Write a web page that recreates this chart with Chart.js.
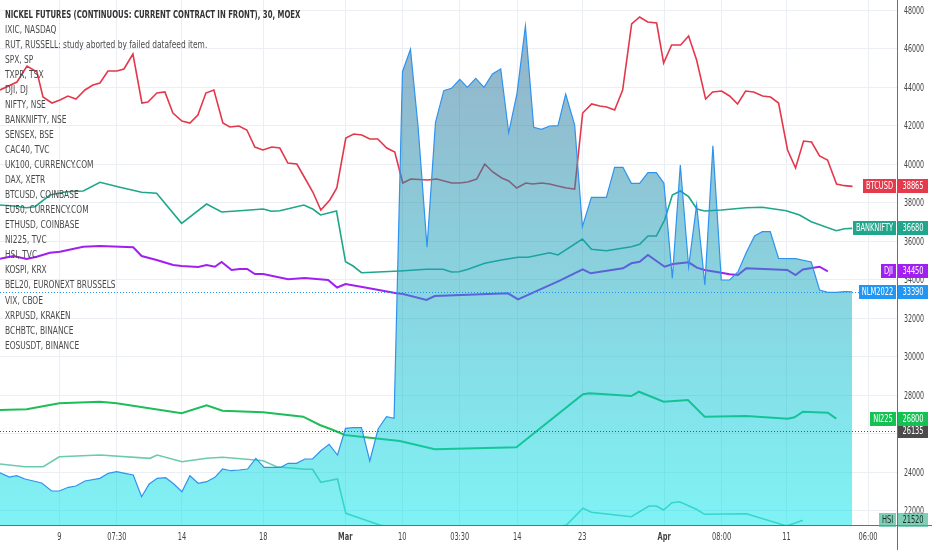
<!DOCTYPE html>
<html>
<head>
<meta charset="utf-8">
<title>NICKEL FUTURES, 30, MOEX</title>
<script src="https://cdn.jsdelivr.net/npm/chart.js@4.4.1/dist/chart.umd.min.js"></script>
<style>
  html, body { margin: 0; padding: 0; background: #ffffff; }
  #wrap { position: relative; width: 932px; height: 550px; }
</style>
</head>
<body>
<div id="wrap"><canvas id="grafico"></canvas></div>
<script>
// Fuente condensada (se estrecha a mano al dibujar el texto)
const FONT = "'Liberation Sans Narrow', 'DejaVu Sans Condensed', sans-serif";

// Eje de tiempo (índice de barra) y etiquetas
const xTickPos = [5.93, 11.7, 18.2, 26.33, 34.55, 40.25, 46.0, 51.75, 58.25, 66.45, 72.2, 78.7, 86.85];
const xTickLabels = ["9", "07:30", "14", "18", "Mar", "10", "03:30", "14", "23", "Apr", "08:00", "11", "06:00"];
const yTicks = [22000, 24000, 26000, 28000, 30000, 32000, 34000, 36000, 38000, 40000, 42000, 44000, 46000, 48000];

// Series [tiempo, valor]
const nlm2022 = [
  [0, 23988], [0.93, 23765], [1.67, 23832], [2.5, 23661], [4.17, 23453], [5.17, 23038], [5.93, 23038],
  [6.83, 23230], [7.6, 23297], [8.5, 23557], [10.0, 23697], [10.83, 23957], [11.67, 24040], [12.5, 23957],
  [13.33, 23869], [14.17, 22741], [14.93, 23401], [15.73, 23697], [16.57, 23729], [17.4, 23401], [18.2, 23001],
  [19.0, 23832], [19.83, 23438], [20.67, 23521], [21.5, 23749], [22.27, 24180], [23.1, 24092], [23.93, 24128],
  [24.77, 24180], [25.6, 24736], [26.43, 24269], [27.27, 24269], [28.1, 24269], [28.83, 24477], [29.67, 24477],
  [30.5, 24700], [31.27, 24700], [32.1, 25131], [32.93, 25464], [33.77, 24908], [34.57, 26295], [35.33, 26326],
  [36.17, 26326], [37.0, 24596], [37.83, 26258], [38.67, 26897], [39.43, 26814], [40.27, 44820], [41.07, 45984],
  [41.83, 41963], [42.73, 35698], [43.57, 42171], [44.4, 43833], [45.17, 43958], [46.0, 44425], [46.77, 44010],
  [47.6, 44477], [48.43, 44010], [49.27, 44701], [50.1, 44960], [50.9, 41651], [51.73, 43698], [52.57, 47194],
  [53.4, 41932], [54.17, 41828], [55.0, 41999], [55.83, 42015], [56.6, 43662], [57.5, 42051], [58.27, 36768],
  [59.17, 38295], [60.67, 38295], [61.5, 39854], [62.33, 39854], [63.17, 39023], [64.0, 39023], [64.83, 39573],
  [65.67, 39573], [66.43, 39023], [67.27, 34087], [68.07, 39973], [68.9, 34690], [69.7, 37895], [70.53, 33739],
  [71.33, 40976], [72.17, 33999], [73.0, 33999], [73.83, 34415], [74.67, 35428], [75.5, 36285], [76.27, 36508],
  [77.07, 36508], [77.9, 35126], [79.6, 35105], [81.17, 34934], [82.0, 33479], [82.83, 33360], [83.67, 33360],
  [84.5, 33391], [85.27, 33390]
];

const btcusd = [
  [0, 43870], [1.7, 44285], [2.7, 45116], [3.7, 44805], [4.3, 43506], [5.2, 43194], [6.0, 43350], [6.8, 43558],
  [7.6, 43402], [8.5, 43870], [9.3, 44129], [10.0, 44233], [10.8, 44857], [11.7, 44857], [12.4, 44960],
  [13.3, 45740], [14.2, 43194], [14.8, 43246], [15.7, 43714], [16.5, 43766], [17.3, 42675], [18.2, 42259],
  [19.0, 42155], [19.8, 42571], [20.6, 43714], [21.4, 43870], [22.3, 42155], [23.0, 41947], [23.9, 41999],
  [24.7, 41792], [25.5, 40908], [26.3, 40753], [27.2, 40908], [28.0, 40856], [28.8, 40077], [29.7, 40025],
  [30.5, 39298], [31.3, 38571], [32.1, 37635], [33.0, 38155], [33.7, 38778], [34.6, 41376], [35.4, 41584],
  [36.2, 41532], [37.0, 41324], [37.8, 41324], [38.7, 40856], [39.5, 40649], [40.3, 39038], [41.1, 39246],
  [42.8, 39194], [43.7, 39246], [45.2, 39038], [46.0, 39038], [46.8, 39090], [47.7, 39246], [48.5, 40025],
  [49.3, 39610], [50.2, 39298], [50.9, 39142], [51.7, 38778], [52.6, 39038], [53.3, 38986], [54.2, 39038],
  [55.0, 38986], [55.8, 38882], [56.7, 38778], [57.5, 38726], [58.3, 42675], [59.2, 43142], [60.0, 43038],
  [60.7, 42986], [61.5, 42831], [62.3, 43870], [63.2, 47298], [64.0, 47662], [64.8, 47402], [65.7, 47350],
  [66.4, 45272], [67.2, 46207], [68.1, 46207], [68.9, 46675], [69.7, 45428], [70.6, 43402], [71.3, 43766],
  [72.2, 43818], [73.0, 43558], [73.8, 43142], [74.6, 43818], [75.4, 43766], [76.3, 43558], [77.1, 43506],
  [77.9, 43194], [78.8, 40753], [79.6, 39817], [80.4, 41220], [81.2, 41168], [82.0, 40441], [82.8, 40233],
  [83.7, 38986], [84.5, 38900], [85.3, 38865]
];

const banknifty = [
  [0, 37895], [1.33, 37843], [2.67, 37755], [3.5, 37807], [5.0, 38415], [6.67, 38586], [8.33, 38623],
  [10.0, 39075], [12.0, 38815], [14.17, 38555], [15.67, 38503], [18.17, 36945], [20.67, 37947], [22.17, 37532],
  [24.0, 37599], [26.33, 37687], [27.17, 37568], [28.0, 37599], [30.4, 37895], [31.33, 37672], [32.07, 37376],
  [33.67, 37584], [34.57, 34950], [35.33, 34726], [36.17, 34378], [40.0, 34467], [42.67, 34555], [44.33, 34555],
  [45.17, 34415], [45.93, 34430], [46.83, 34555], [48.5, 34867], [50.17, 35038], [51.83, 35178], [52.83, 35178],
  [55.0, 35417], [55.83, 35298], [58.27, 36129], [59.17, 35594], [60.67, 35521], [63.17, 35729], [64.0, 35854],
  [64.83, 36285], [65.67, 36285], [66.5, 37116], [67.27, 38415], [68.07, 38623], [68.9, 38327], [69.73, 37687],
  [70.5, 37584], [72.17, 37635], [74.67, 37755], [76.27, 37776], [78.67, 37599], [80.0, 37376], [81.17, 37028],
  [83.67, 36560], [84.5, 36664], [85.27, 36680]
];

const dji = [
  [0, 35106], [1.33, 35246], [2.67, 35090], [3.67, 35210], [5.0, 35417], [6.0, 35469], [8.33, 35729],
  [10.0, 35765], [13.33, 35698], [14.17, 35246], [15.67, 35038], [17.33, 34778], [18.17, 34726], [19.83, 34674],
  [20.67, 34778], [21.5, 34690], [22.17, 34934], [23.17, 34518], [24.0, 34570], [24.73, 34570], [25.5, 34311],
  [26.33, 34311], [28.83, 34035], [30.5, 34103], [32.83, 33999], [33.73, 33609], [34.57, 33791], [36.67, 33599],
  [39.67, 33308], [40.33, 33272], [42.67, 32960], [43.5, 33168], [50.83, 33308], [51.83, 32996], [56.0, 33963],
  [58.3, 34555], [59.1, 34347], [62.33, 34607], [63.17, 34867], [64.0, 34950], [64.83, 35298], [66.5, 34690],
  [67.33, 34830], [68.9, 34919], [69.73, 34638], [70.5, 34518], [72.17, 34378], [73.0, 34295], [73.83, 34259],
  [74.67, 34607], [78.77, 34518], [79.6, 34259], [80.33, 34544], [82.0, 34690], [82.83, 34450]
];

const ni225 = [
  [0, 27245], [2.67, 27282], [5.93, 27594], [10.0, 27677], [11.67, 27594], [18.17, 27074], [20.67, 27490],
  [22.27, 27209], [26.33, 27126], [30.33, 26897], [32.0, 26466], [33.33, 26206], [34.5, 25947], [40.0, 25635],
  [43.5, 25204], [51.67, 25308], [58.33, 28061], [59.0, 28113], [63.17, 27973], [63.93, 28196], [66.4, 27677],
  [68.83, 27765], [70.5, 26897], [74.67, 26934], [78.83, 26794], [79.5, 26866], [80.33, 27157], [82.83, 27105],
  [83.67, 26800]
];

const hsi = [
  [0, 24440], [2.5, 24300], [4.33, 24300], [5.93, 24820], [10.0, 24908], [15.0, 24736], [15.73, 24908],
  [18.2, 24560], [20.67, 24736], [22.27, 24788], [24.67, 24684], [26.33, 24612], [27.67, 24300], [30.5, 24165],
  [31.27, 24165], [32.1, 23490], [33.77, 23661], [34.6, 21879], [38.0, 21271], [44.0, 20700], [52.0, 20800],
  [56.67, 21271], [58.33, 22139], [59.17, 21931], [63.17, 21702], [64.93, 22258], [65.67, 22258], [66.4, 22050],
  [67.23, 22430], [68.0, 22482], [69.67, 22087], [70.5, 21827], [74.67, 21858], [78.67, 21230], [79.5, 21360],
  [80.33, 21520]
];

// Línea de precio suelta en el eje
const priceMarker = 26135;

// Lista de estudios arriba a la izquierda
const legendLines = [
  "NICKEL FUTURES (CONTINUOUS: CURRENT CONTRACT IN FRONT), 30, MOEX",
  "IXIC, NASDAQ",
  "RUT, RUSSELL: study aborted by failed datafeed item.",
  "SPX, SP",
  "TXPR, TSX",
  "DJI, DJ",
  "NIFTY, NSE",
  "BANKNIFTY, NSE",
  "SENSEX, BSE",
  "CAC40, TVC",
  "UK100, CURRENCY.COM",
  "DAX, XETR",
  "BTCUSD, COINBASE",
  "EU50, CURRENCY.COM",
  "ETHUSD, COINBASE",
  "NI225, TVC",
  "HSI, TVC",
  "KOSPI, KRX",
  "BEL20, EURONEXT BRUSSELS",
  "VIX, CBOE",
  "XRPUSD, KRAKEN",
  "BCHBTC, BINANCE",
  "EOSUSDT, BINANCE"
];

const toPoints = (arr) => arr.map(([x, y]) => ({ x: x, y: y }));

function lineSet(label, arr, color, width, order) {
  return {
    label: label,
    data: toPoints(arr),
    borderColor: color,
    borderWidth: width,
    pointRadius: 0,
    tension: 0,
    fill: false,
    order: order,
  };
}

// Gradiente del área (gris azulado arriba, cian abajo)
function areaGradient(context) {
  const chart = context.chart;
  const ca = chart.chartArea;
  if (!ca) return "rgba(0,200,220,0.45)";
  const g = chart.ctx.createLinearGradient(0, ca.top, 0, ca.bottom);
  g.addColorStop(0, "rgba(45,95,140,0.5)");
  g.addColorStop(1, "rgba(0,230,235,0.5)");
  return g;
}

// Etiquetas de precio en el eje derecho
const tags = [
  { name: "BTCUSD", data: btcusd, bg: "#e5394c", fg: "#ffffff" },
  { name: "BANKNIFTY", data: banknifty, bg: "#1fa68b", fg: "#ffffff" },
  { name: "DJI", data: dji, bg: "#a11ff0", fg: "#ffffff" },
  { name: "NLM2022", data: nlm2022, bg: "#2196f3", fg: "#ffffff" },
  { name: "NI225", data: ni225, bg: "#14c254", fg: "#ffffff" },
  { name: "HSI", data: hsi, bg: "rgba(72,187,152,0.7)", fg: "#1e2a28" },
];

// texto estrechado horizontalmente
function narrowText(ctx, text, x, y, sx, align) {
  ctx.save();
  ctx.translate(x, y);
  ctx.scale(sx, 1);
  ctx.textAlign = align;
  ctx.fillText(text, 0, 0);
  ctx.restore();
}

function drawTag(ctx, chart, y, name, value, bg, fg) {
  const ca = chart.chartArea;
  const h = 14;
  const sx = 0.74;
  ctx.font = "10px " + FONT;
  ctx.textBaseline = "middle";
  const vx = ca.right + 1;
  const vw = chart.width - vx - 4;
  ctx.fillStyle = bg;
  ctx.fillRect(vx, Math.round(y - h / 2), vw, h);
  ctx.fillStyle = fg;
  narrowText(ctx, String(value), vx + vw / 2, y + 0.5, sx, "center");
  if (name) {
    const nw = Math.round(ctx.measureText(name).width * sx + 6);
    ctx.fillStyle = bg;
    ctx.fillRect(ca.right - 1 - nw, Math.round(y - h / 2), nw, h);
    ctx.fillStyle = fg;
    narrowText(ctx, name, ca.right - 1 - nw / 2, y + 0.5, sx, "center");
  }
}

const overlayPlugin = {
  id: "tvOverlay",
  afterDatasetsDraw(chart) {
    const ctx = chart.ctx;
    const ca = chart.chartArea;
    const yScale = chart.scales.y;
    // líneas punteadas de precio
    const lines = [
      { v: nlm2022[nlm2022.length - 1][1], c: "#2196f3" },
      { v: priceMarker, c: "#555555" },
    ];
    ctx.save();
    ctx.lineWidth = 1;
    ctx.setLineDash([1, 2]);
    lines.forEach((l) => {
      const y = Math.round(yScale.getPixelForValue(l.v)) + 0.5;
      ctx.strokeStyle = l.c;
      ctx.beginPath();
      ctx.moveTo(ca.left, y);
      ctx.lineTo(ca.right, y);
      ctx.stroke();
    });
    ctx.restore();
  },
  afterDraw(chart) {
    const ctx = chart.ctx;
    const ca = chart.chartArea;
    const xScale = chart.scales.x;
    const yScale = chart.scales.y;
    ctx.save();
    // prolongar bordes de ejes
    ctx.strokeStyle = "#6e6e6e";
    ctx.lineWidth = 1;
    ctx.beginPath();
    ctx.moveTo(ca.right + 0.5, ca.bottom);
    ctx.lineTo(ca.right + 0.5, chart.height);
    ctx.moveTo(ca.right, ca.bottom + 0.5);
    ctx.lineTo(chart.width, ca.bottom + 0.5);
    ctx.stroke();

    // etiquetas de los ejes
    ctx.textBaseline = "middle";
    ctx.fillStyle = "#454545";
    ctx.font = "10px " + FONT;
    yTicks.forEach((v) => {
      narrowText(ctx, String(v), ca.right + 7, yScale.getPixelForValue(v) + 0.5, 0.7, "left");
    });
    xTickPos.forEach((p, i) => {
      const lbl = xTickLabels[i];
      ctx.font = (/^[A-Z]/.test(lbl) ? "bold " : "") + "10px " + FONT;
      narrowText(ctx, lbl, xScale.getPixelForValue(p), ca.bottom + 12, 0.74, "center");
    });

    // texto de estudios
    legendLines.forEach((t, i) => {
      ctx.font = (i === 0 ? "bold " : "") + "10px " + FONT;
      ctx.fillStyle = i === 0 ? "#333333" : "#4a4a4a";
      narrowText(ctx, t, 5, 15 + i * 15.05, i === 0 ? 0.77 : 0.83, "left");
    });

    // etiquetas de precio
    drawTag(ctx, chart, yScale.getPixelForValue(priceMarker), null, priceMarker, "#4b4b4b", "#ffffff");
    tags.forEach((tg) => {
      const last = tg.data[tg.data.length - 1][1];
      drawTag(ctx, chart, yScale.getPixelForValue(last), tg.name, last, tg.bg, tg.fg);
    });
    ctx.restore();
  },
};

Chart.defaults.font.family = FONT;

new Chart(document.getElementById("grafico"), {
  type: "line",
  data: {
    datasets: [
      {
        label: "NLM2022",
        data: toPoints(nlm2022),
        borderColor: "#2f93ee",
        borderWidth: 1.2,
        pointRadius: 0,
        tension: 0,
        fill: "start",
        backgroundColor: areaGradient,
        order: 0,
      },
      lineSet("BTCUSD", btcusd, "#e3384b", 1.6, 1),
      lineSet("BANKNIFTY", banknifty, "#1fa68b", 1.6, 2),
      lineSet("DJI", dji, "#a11ff0", 2, 3),
      lineSet("NI225", ni225, "#1fbd58", 2, 4),
      lineSet("HSI", hsi, "#6ccab0", 1.6, 5),
    ],
  },
  options: {
    responsive: true,
    maintainAspectRatio: false,
    animation: false,
    layout: { padding: 0 },
    plugins: {
      legend: { display: false },
      tooltip: { enabled: false },
    },
    scales: {
      x: {
        type: "linear",
        min: 0,
        max: 89.75,
        afterBuildTicks: (s) => {
          s.ticks = xTickPos.map((v) => ({ value: v }));
        },
        afterFit: (s) => {
          s.height = 25;
          s.paddingLeft = 0;
          s.paddingRight = 0;
        },
        ticks: { display: false },
        grid: { color: "#ebeef3", drawTicks: false },
        border: { color: "#6e6e6e" },
      },
      y: {
        type: "linear",
        position: "right",
        min: 21272,
        max: 48545,
        afterBuildTicks: (s) => {
          s.ticks = yTicks.map((v) => ({ value: v }));
        },
        afterFit: (s) => {
          s.width = 35;
          s.paddingTop = 0;
          s.paddingBottom = 0;
        },
        ticks: { display: false },
        grid: { color: "#ebeef3", drawTicks: false },
        border: { color: "#6e6e6e" },
      },
    },
  },
  plugins: [overlayPlugin],
});
</script>
</body>
</html>
